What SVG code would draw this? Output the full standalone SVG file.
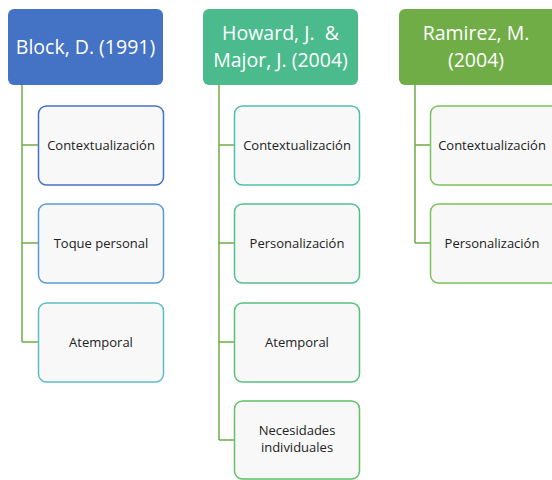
<svg xmlns="http://www.w3.org/2000/svg" width="552" height="480" viewBox="0 0 552 480">
<style>
.ht{fill:#ffffff;font-family:"Open Sans","Liberation Sans",sans-serif;font-size:19.5px;text-anchor:middle;white-space:pre}
.box{fill:#f8f8f8;stroke-width:1.5}
.ct{fill:#222222;font-family:"Open Sans","Liberation Sans",sans-serif;font-size:13px;text-anchor:middle}
.conn{fill:none;stroke:#70ad47;stroke-width:1.5}
</style>
<rect width="552" height="480" fill="#ffffff"/>
<g id="connectors" class="conn">
<path d="M22,85 V342 M22,145 H38 M22,243 H38 M22,342 H38"/>
<path d="M219,85 V440 M219,145 H234 M219,243 H234 M219,342 H234 M219,440 H234"/>
<path d="M415,85 V243 M415,145 H430 M415,243 H430"/>
</g>
<g id="block">
<rect x="8" y="9" width="155" height="76" rx="6" fill="#4472c4"/>
<text class="ht" x="85.5" y="54">Block, D. (1991)</text>
</g>
<g id="block-c1">
<rect class="box" x="38.5" y="106" width="125" height="79" rx="8" stroke="#4472c4"/>
<text class="ct" x="101" y="150">Contextualización</text>
</g>
<g id="block-c2">
<rect class="box" x="38.5" y="204" width="125" height="79" rx="8" stroke="#5b9bd5"/>
<text class="ct" x="101" y="248">Toque personal</text>
</g>
<g id="block-c3">
<rect class="box" x="38.5" y="303" width="125" height="79" rx="8" stroke="#5bbccc"/>
<text class="ct" x="101" y="347">Atemporal</text>
</g>
<g id="howard">
<rect x="203" y="9" width="155" height="76" rx="6" fill="#4bba8c"/>
<text class="ht" x="280.5" y="40" xml:space="preserve">Howard, J.  &amp;</text>
<text class="ht" x="280.5" y="67">Major, J. (2004)</text>
</g>
<g id="howard-c1">
<rect class="box" x="234.5" y="106" width="125" height="79" rx="8" stroke="#4cc0ae"/>
<text class="ct" x="297" y="150">Contextualización</text>
</g>
<g id="howard-c2">
<rect class="box" x="234.5" y="204" width="125" height="79" rx="8" stroke="#50c090"/>
<text class="ct" x="297" y="248">Personalización</text>
</g>
<g id="howard-c3">
<rect class="box" x="234.5" y="303" width="125" height="79" rx="8" stroke="#58c07c"/>
<text class="ct" x="297" y="347">Atemporal</text>
</g>
<g id="howard-c4">
<rect class="box" x="234.5" y="401" width="125" height="78" rx="8" stroke="#62c066"/>
<text class="ct" x="297" y="435">Necesidades</text>
<text class="ct" x="297" y="452">individuales</text>
</g>
<g id="ramirez">
<rect x="399" y="9" width="160" height="76" rx="6" fill="#70ad47"/>
<text class="ht" x="476" y="40">Ramirez, M.</text>
<text class="ht" x="476" y="67">(2004)</text>
</g>
<g id="ramirez-c1">
<rect class="box" x="430.5" y="106" width="130" height="79" rx="8" stroke="#7cc25a"/>
<text class="ct" x="492" y="150">Contextualización</text>
</g>
<g id="ramirez-c2">
<rect class="box" x="430.5" y="204" width="130" height="79" rx="8" stroke="#7cc25a"/>
<text class="ct" x="492" y="248">Personalización</text>
</g>
</svg>
